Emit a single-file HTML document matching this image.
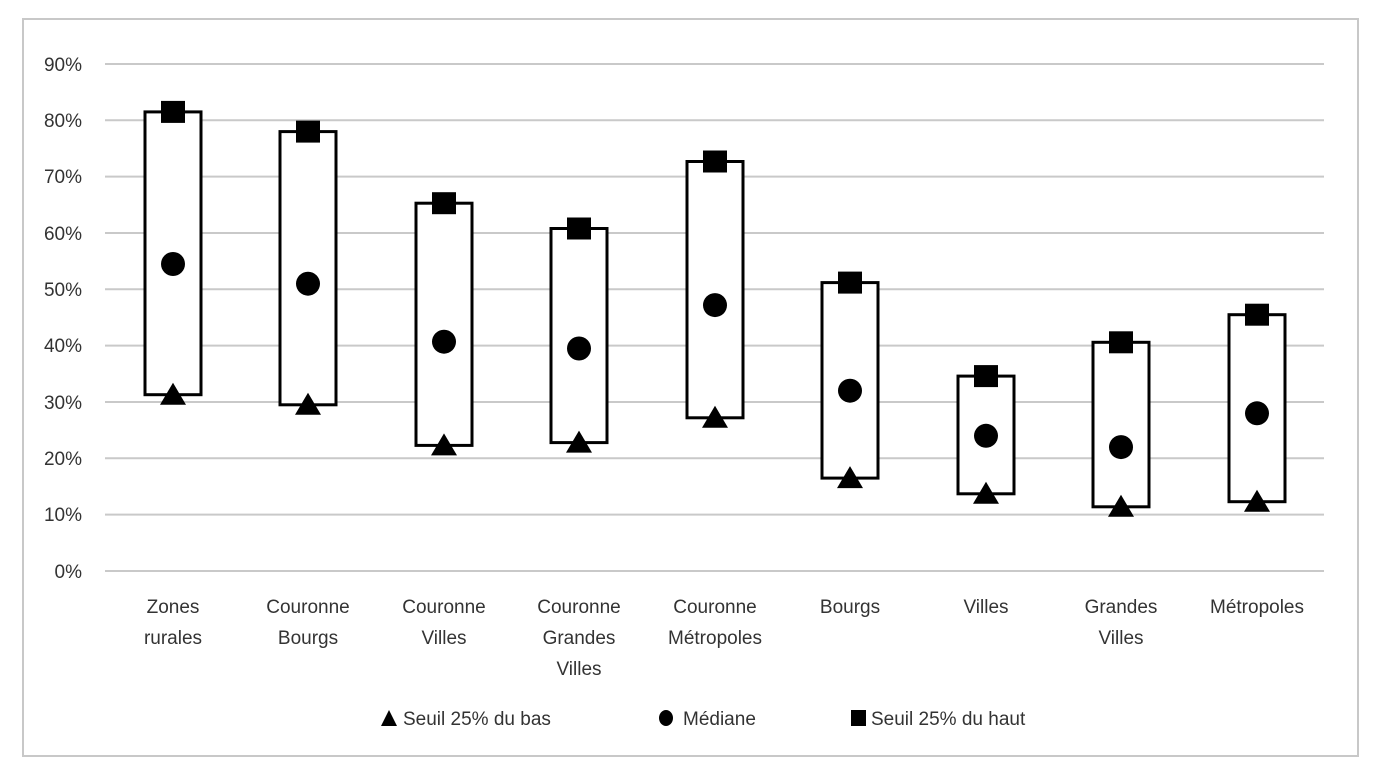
<!DOCTYPE html>
<html><head><meta charset="utf-8"><style>
html,body{margin:0;padding:0;background:#fff;}
svg{display:block;}
text{font-family:"Liberation Sans",sans-serif;fill:#333;font-size:19px;}
</style></head><body>
<svg width="1374" height="774" viewBox="0 0 1374 774">
<rect x="23" y="19" width="1335" height="737" fill="#fff" stroke="#c8c8c8" stroke-width="2"/>
<g stroke="#c9c9c9" stroke-width="2">
<line x1="105" x2="1324" y1="64" y2="64"/>
<line x1="105" x2="1324" y1="120.3" y2="120.3"/>
<line x1="105" x2="1324" y1="176.6" y2="176.6"/>
<line x1="105" x2="1324" y1="233" y2="233"/>
<line x1="105" x2="1324" y1="289.3" y2="289.3"/>
<line x1="105" x2="1324" y1="345.6" y2="345.6"/>
<line x1="105" x2="1324" y1="402" y2="402"/>
<line x1="105" x2="1324" y1="458.3" y2="458.3"/>
<line x1="105" x2="1324" y1="514.6" y2="514.6"/>
<line x1="105" x2="1324" y1="571" y2="571"/>
</g>
<g text-anchor="end">
<text x="82" y="71">90%</text><text x="82" y="127">80%</text><text x="82" y="183">70%</text>
<text x="82" y="240">60%</text><text x="82" y="296">50%</text><text x="82" y="352">40%</text>
<text x="82" y="409">30%</text><text x="82" y="465">20%</text><text x="82" y="521">10%</text>
<text x="82" y="578">0%</text>
</g>
<g fill="#fff" stroke="#000" stroke-width="3">
<rect x="145" y="111.9" width="56" height="282.8"/>
<rect x="280" y="131.6" width="56" height="273.2"/>
<rect x="416" y="203.2" width="56" height="242.2"/>
<rect x="551" y="228.5" width="56" height="214.1"/>
<rect x="687" y="161.5" width="56" height="256.3"/>
<rect x="822" y="282.6" width="56" height="195.5"/>
<rect x="958" y="376.1" width="56" height="117.7"/>
<rect x="1093" y="342.3" width="56" height="164.5"/>
<rect x="1229" y="314.7" width="56" height="187"/>
</g>
<g fill="#000">
<rect x="161" y="100.9" width="24" height="22"/>
<rect x="296" y="120.6" width="24" height="22"/>
<rect x="432" y="192.2" width="24" height="22"/>
<rect x="567" y="217.5" width="24" height="22"/>
<rect x="703" y="150.5" width="24" height="22"/>
<rect x="838" y="271.6" width="24" height="22"/>
<rect x="974" y="365.1" width="24" height="22"/>
<rect x="1109" y="331.3" width="24" height="22"/>
<rect x="1245" y="303.7" width="24" height="22"/>
<circle cx="173" cy="264" r="12"/>
<circle cx="308" cy="283.7" r="12"/>
<circle cx="444" cy="341.7" r="12"/>
<circle cx="579" cy="348.5" r="12"/>
<circle cx="715" cy="305.1" r="12"/>
<circle cx="850" cy="390.7" r="12"/>
<circle cx="986" cy="435.8" r="12"/>
<circle cx="1121" cy="447.1" r="12"/>
<circle cx="1257" cy="413.3" r="12"/>
<polygon points="160,404.7 173,382.7 186,404.7"/>
<polygon points="295,414.8 308,392.8 321,414.8"/>
<polygon points="431,455.4 444,433.4 457,455.4"/>
<polygon points="566,452.6 579,430.6 592,452.6"/>
<polygon points="702,427.8 715,405.8 728,427.8"/>
<polygon points="837,488.1 850,466.1 863,488.1"/>
<polygon points="973,503.8 986,481.8 999,503.8"/>
<polygon points="1108,516.8 1121,494.8 1134,516.8"/>
<polygon points="1244,511.7 1257,489.7 1270,511.7"/>
</g>
<g text-anchor="middle">
<text x="173" y="613">Zones</text><text x="173" y="644">rurales</text>
<text x="308" y="613">Couronne</text><text x="308" y="644">Bourgs</text>
<text x="444" y="613">Couronne</text><text x="444" y="644">Villes</text>
<text x="579" y="613">Couronne</text><text x="579" y="644">Grandes</text><text x="579" y="675">Villes</text>
<text x="715" y="613">Couronne</text><text x="715" y="644">Métropoles</text>
<text x="850" y="613">Bourgs</text>
<text x="986" y="613">Villes</text>
<text x="1121" y="613">Grandes</text><text x="1121" y="644">Villes</text>
<text x="1257" y="613">Métropoles</text>
</g>
<polygon points="381,726 389,710 397,726" fill="#000"/>
<text x="403" y="725">Seuil 25% du bas</text>
<ellipse cx="666" cy="718" rx="7" ry="8" fill="#000"/>
<text x="683" y="725">Médiane</text>
<rect x="851" y="710" width="15" height="16" fill="#000"/>
<text x="871" y="725">Seuil 25% du haut</text>
</svg>
</body></html>
